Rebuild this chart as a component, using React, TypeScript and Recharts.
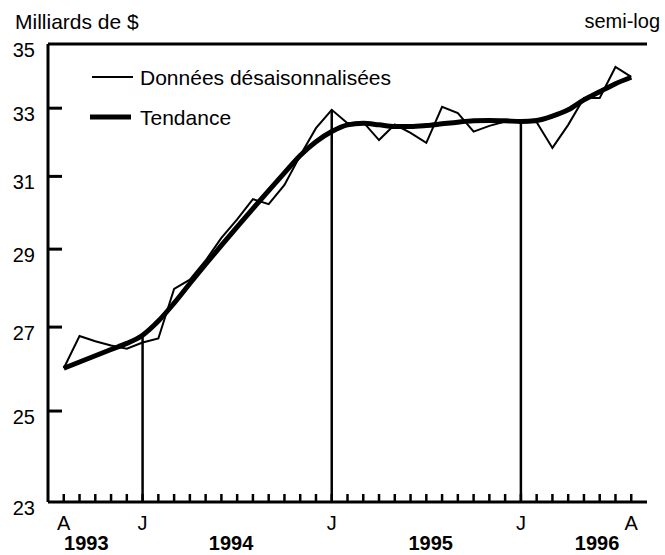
import React from 'react';
import { ComposedChart, Line, XAxis, YAxis, ReferenceLine, Legend } from 'recharts';

// Mois d'août 1993 à août 1996
const monthCodes = [
  'A', 'S', 'O', 'N', 'D',
  'J', 'F', 'M', 'A', 'M', 'J', 'J', 'A', 'S', 'O', 'N', 'D',
  'J', 'F', 'M', 'A', 'M', 'J', 'J', 'A', 'S', 'O', 'N', 'D',
  'J', 'F', 'M', 'A', 'M', 'J', 'J', 'A',
];
const labelledMonths = [0, 5, 17, 29, 36];
const januaryMonths = [5, 17, 29];
const years = ['1993', '1994', '1995', '1996'];
const yearCentres = [2.3, 11, 23, 33];
const yTicks = [23, 25, 27, 29, 31, 33, 35];

const seasonallyAdjusted = [
  26.0, 26.78, 26.65, 26.55, 26.47,
  26.62, 26.72, 27.96, 28.2, 28.7, 29.3, 29.8, 30.36, 30.22, 30.76, 31.6, 32.4,
  32.95, 32.55, 32.58, 32.05, 32.51, 32.26, 31.97, 33.04, 32.85, 32.3, 32.47, 32.6,
  32.6, 32.58, 31.82, 32.5, 33.31, 33.31, 34.27, 33.96,
];
const trend = [
  26.0, 26.15, 26.3, 26.45, 26.6,
  26.8, 27.15, 27.6, 28.1, 28.6, 29.1, 29.6, 30.1, 30.6, 31.1, 31.6, 32.0,
  32.3, 32.5, 32.55, 32.5, 32.45, 32.45, 32.48, 32.53, 32.58, 32.62, 32.63, 32.62,
  32.6, 32.63, 32.76, 32.95, 33.25, 33.5, 33.75, 33.95,
];

const data = seasonallyAdjusted.map((v, i) => ({ i, raw: v, trend: trend[i] }));
const monthIdx = monthCodes.map((_, i) => i);

const FONT = '"Liberation Sans", Arial, Helvetica, sans-serif';
const lineWidths: Record<string, number> = { raw: 2, trend: 5 };

const MonthTick = ({ x, y, payload }: any) => {
  const idx = payload.value;
  return (
    <g>
      <line x1={x} x2={x} y1={y} y2={y - 8} stroke="#000" strokeWidth={2.5} />
      {labelledMonths.includes(idx) && (
        <text x={x} y={y + 28} textAnchor="middle" fontSize={20} fontFamily={FONT} fill="#000">
          {monthCodes[idx]}
        </text>
      )}
    </g>
  );
};

const YearTick = ({ x, y, index }: any) => (
  <text x={x} y={y + 28} textAnchor="middle" fontSize={20} fontWeight="bold" fontFamily={FONT} fill="#000">
    {years[index]}
  </text>
);

const LeftTick = ({ x, y, payload }: any) => {
  const v = payload.value;
  const inner = v !== yTicks[0] && v !== yTicks[yTicks.length - 1];
  return (
    <g>
      {inner && <line x1={x} x2={x + 14} y1={y} y2={y} stroke="#000" strokeWidth={3} />}
      <text x={x - 13} y={y + 13} textAnchor="end" fontSize={20} fontFamily={FONT} fill="#000">
        {v}
      </text>
    </g>
  );
};

const RightTick = ({ x, y, payload }: any) => {
  const v = payload.value;
  const inner = v !== yTicks[0] && v !== yTicks[yTicks.length - 1];
  return inner ? <line x1={x - 14} x2={x} y1={y} y2={y} stroke="#000" strokeWidth={3} /> : <g />;
};

const LegendContent = ({ payload }: any) => (
  <svg width={340} height={80} style={{ overflow: 'visible', display: 'block' }}>
    {(payload || []).map((entry: any, k: number) => {
      const w = lineWidths[entry.dataKey] ?? 2;
      const cy = 20 + k * 40;
      return (
        <g key={entry.dataKey}>
          <line x1={k === 0 ? 12 : 10} x2={k === 0 ? 53 : 51} y1={cy} y2={cy} stroke="#000" strokeWidth={w} />
          <text x={60} y={cy + 7.5} fontSize={21} fontFamily={FONT} fill="#000">
            {entry.value}
          </text>
        </g>
      );
    })}
  </svg>
);

export default function App() {
  return (
    <div style={{ position: 'absolute', left: 0, top: 0, width: 665, height: 555, background: '#fff' }}>
      <svg width={665} height={40} style={{ position: 'absolute', left: 0, top: 0 }}>
        <text x={15} y={28.5} fontSize={21} fontFamily={FONT} fill="#000">Milliards de $</text>
        <text x={660} y={28} fontSize={20} fontFamily={FONT} fill="#000" textAnchor="end">semi-log</text>
      </svg>
      <ComposedChart
        width={665}
        height={555}
        data={data}
        margin={{ top: 44, right: 18, left: 0, bottom: 0 }}
      >
        <XAxis
          xAxisId="m"
          dataKey="i"
          type="number"
          domain={[-1, 37]}
          ticks={monthIdx}
          interval={0}
          allowDataOverflow
          height={20}
          tickSize={0}
          tickMargin={0}
          tickLine={false}
          axisLine={{ stroke: '#000', strokeWidth: 3 }}
          tick={<MonthTick />}
        />
        <XAxis
          xAxisId="year"
          type="number"
          domain={[-1, 37]}
          ticks={yearCentres}
          interval={0}
          allowDataOverflow
          height={33}
          tickSize={0}
          tickMargin={0}
          tickLine={false}
          axisLine={false}
          tick={<YearTick />}
        />
        <YAxis
          yAxisId="l"
          type="number"
          scale="log"
          domain={[23, 35]}
          ticks={yTicks}
          interval={0}
          allowDataOverflow
          width={48}
          tickSize={0}
          tickMargin={0}
          tickLine={false}
          axisLine={{ stroke: '#000', strokeWidth: 3 }}
          tick={<LeftTick />}
        />
        <YAxis
          yAxisId="r"
          orientation="right"
          type="number"
          scale="log"
          domain={[23, 35]}
          ticks={yTicks}
          interval={0}
          allowDataOverflow
          width={0}
          tickSize={0}
          tickMargin={0}
          tickLine={false}
          axisLine={{ stroke: '#000', strokeWidth: 3 }}
          tick={<RightTick />}
        />
        <ReferenceLine xAxisId="m" yAxisId="l" y={35} stroke="#000" strokeWidth={3} />
        {januaryMonths.map((m) => (
          <ReferenceLine
            key={m}
            xAxisId="m"
            yAxisId="l"
            segment={[
              { x: m, y: 23 },
              { x: m, y: Math.max(seasonallyAdjusted[m], trend[m]) },
            ]}
            stroke="#000"
            strokeWidth={2.5}
          />
        ))}
        <Line
          xAxisId="m"
          yAxisId="l"
          type="linear"
          dataKey="raw"
          name="Données désaisonnalisées"
          stroke="#000"
          strokeWidth={lineWidths.raw}
          dot={false}
          isAnimationActive={false}
        />
        <Line
          xAxisId="m"
          yAxisId="l"
          type="monotone"
          dataKey="trend"
          name="Tendance"
          stroke="#000"
          strokeWidth={lineWidths.trend}
          dot={false}
          isAnimationActive={false}
        />
        <Legend
          layout="horizontal"
          verticalAlign="middle"
          align="center"
          content={<LegendContent />}
          wrapperStyle={{ left: 80, top: 57, width: 340, height: 80 }}
        />
      </ComposedChart>
    </div>
  );
}
